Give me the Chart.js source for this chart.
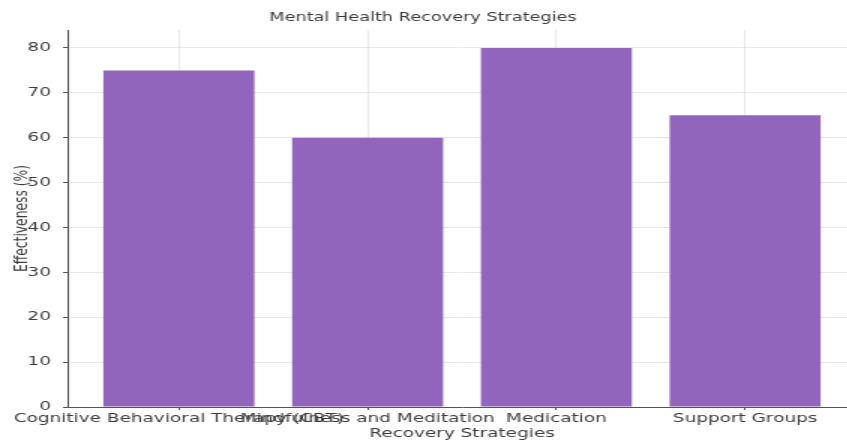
<!DOCTYPE html>
<html lang="en">
<head>
  <meta charset="UTF-8">
  <title>Mental Health Recovery Strategies</title>
  <script src="https://cdn.jsdelivr.net/npm/chart.js"></script>
  <style>
    html, body { margin: 0; padding: 0; background: #fff; overflow: hidden; }
    /* chart is drawn narrow and stretched wide, like the saved figure */
    #wrap { width: 580px; height: 442px; transform: scaleX(1.5); transform-origin: 0 0; }
  </style>
</head>
<body>
  <div id="wrap">
    <canvas id="chart" width="580" height="442"></canvas>
  </div>

  <script>
    const categories = ['Cognitive Behavioral Therapy (CBT)', 'Mindfulness and Meditation', 'Medication', 'Support Groups'];
    const effectiveness = [75, 60, 80, 65];
    const yTicks = [0, 10, 20, 30, 40, 50, 60, 70, 80];

    const barColor = 'rgb(146, 101, 189)';
    const gridColor = 'rgba(200, 200, 200, 0.42)';
    const textColor = '#3c3c3c';
    const font = { family: 'DejaVu Sans', size: 12.3 };

    // title drawn at a fixed spot above the plot
    const titlePlugin = {
      id: 'figTitle',
      afterDraw(chart) {
        const ctx = chart.ctx;
        ctx.save();
        ctx.fillStyle = textColor;
        ctx.font = '11.8px "DejaVu Sans"';
        ctx.textAlign = 'center';
        ctx.textBaseline = 'middle';
        ctx.fillText('Mental Health Recovery Strategies', 282, 18);
        ctx.restore();
      }
    };

    new Chart(document.getElementById('chart'), {
      type: 'bar',
      data: {
        datasets: [{
          data: effectiveness.map((v, i) => ({ x: i, y: v })),
          backgroundColor: barColor,
          borderWidth: 0,
          barPercentage: 1,
          categoryPercentage: 0.8
        }]
      },
      options: {
        responsive: false,
        animation: false,
        devicePixelRatio: 1,
        layout: { padding: { top: 30, right: 9, left: 0, bottom: 0 } },
        plugins: { legend: { display: false }, tooltip: { enabled: false }, title: { display: false } },
        scales: {
          x: {
            type: 'linear',
            offset: false,
            min: -0.59,
            max: 3.59,
            z: 1,
            afterBuildTicks: s => { s.ticks = categories.map((c, i) => ({ value: i })); },
            afterFit: s => { s.height = 35; },
            grid: { color: gridColor, offset: false, tickLength: 3, tickColor: '#555' },
            border: { color: '#555', width: 1 },
            ticks: {
              autoSkip: false, maxRotation: 0, minRotation: 0, padding: 1,
              color: textColor, font,
              callback: v => categories[v]
            },
            title: { display: true, text: 'Recovery Strategies', color: textColor, font, padding: { top: 0, bottom: 1 } }
          },
          y: {
            min: 0,
            max: 84,
            z: 1,
            afterBuildTicks: s => { s.ticks = yTicks.map(v => ({ value: v })); },
            afterFit: s => { s.width = 45; },
            grid: { color: gridColor, tickLength: 3, tickColor: '#555' },
            border: { color: '#555', width: 1 },
            ticks: { padding: 8, color: textColor, font },
            title: { display: true, text: 'Effectiveness (%)', color: textColor, font, padding: { top: 7, bottom: 0 } }
          }
        }
      },
      plugins: [titlePlugin]
    });
  </script>
</body>
</html>
